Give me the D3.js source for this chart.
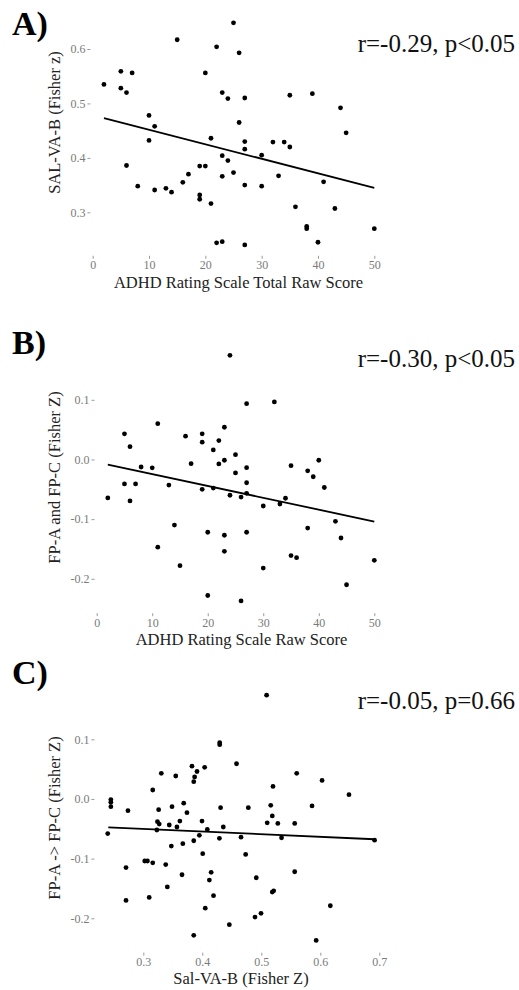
<!DOCTYPE html>
<html><head><meta charset="utf-8">
<script src="https://cdn.jsdelivr.net/npm/d3@7"></script>
<style>
html,body{margin:0;padding:0;background:#fff;}
svg{display:block;font-family:"Liberation Serif","Times New Roman",serif;}
</style></head>
<body><svg id="c" width="519" height="990"></svg>
<script>
// ---------- DATA ----------
const panelLabels = ["A)", "B)", "C)"];
const statTexts = ["r=-0.29, p<0.05", "r=-0.30, p<0.05", "r=-0.05, p=0.66"];
const xTitles = ["ADHD Rating Scale Total Raw Score", "ADHD Rating Scale Raw Score", "Sal-VA-B (Fisher Z)"];
const yTitles = ["SAL-VA-B (Fisher z)", "FP-A and FP-C (Fisher Z)", "FP-A -> FP-C (Fisher Z)"];

const xTicksA = [0, 10, 20, 30, 40, 50];
const yTicksA = [0.3, 0.4, 0.5, 0.6];
const xTicksB = [0, 10, 20, 30, 40, 50];
const yTicksB = [-0.2, -0.1, 0.0, 0.1];
const xTicksC = [0.3, 0.4, 0.5, 0.6, 0.7];
const yTicksC = [-0.2, -0.1, 0.0, 0.1];

const adhdA = [2,5,7,5,6,15,10,11,10,6,20,22,25,26,23,24,27,26,21,27,27,23,24,19,20,35,39,44,45,32,34,35,30,8,11,13,14,16,17,19,19,21,23,25,27,22,23,27,30,33,41,36,43,38,38,40,50];
const salA = [0.535,0.559,0.556,0.528,0.520,0.617,0.478,0.458,0.432,0.386,0.556,0.604,0.648,0.593,0.520,0.509,0.510,0.465,0.436,0.430,0.416,0.404,0.395,0.385,0.385,0.515,0.518,0.492,0.446,0.429,0.429,0.420,0.405,0.348,0.341,0.344,0.337,0.355,0.370,0.332,0.324,0.316,0.366,0.373,0.350,0.244,0.246,0.240,0.348,0.367,0.356,0.310,0.307,0.274,0.270,0.245,0.270];
const fitXA = [2, 50];
const fitYA = [0.473, 0.345];

const adhdB = [24,27,5,6,11,16,19,19,22,23,21,25,8,10,17,22,23,27,25,5,7,13,27,19,32,35,40,38,39,41,2,6,21,24,26,27,14,11,15,20,23,27,23,20,26,34,33,30,43,38,44,35,36,50,30,45];
const fpB = [0.1746,0.0935,0.043,0.0215,0.060,0.039,0.043,0.029,0.0316,0.054,0.016,0.008,-0.0126,-0.014,-0.007,-0.0075,-0.0013,-0.0137,-0.0226,-0.041,-0.041,-0.043,-0.039,-0.050,0.0964,-0.0104,-0.0013,-0.019,-0.029,-0.047,-0.0645,-0.0695,-0.048,-0.060,-0.063,-0.0567,-0.110,-0.147,-0.178,-0.122,-0.127,-0.122,-0.154,-0.228,-0.237,-0.065,-0.0746,-0.078,-0.1036,-0.115,-0.1316,-0.161,-0.1646,-0.169,-0.182,-0.210];
const fitXB = [2, 50];
const fitYB = [-0.0085, -0.104];

const salC = [0.4295,0.4295,0.458,0.3305,0.355,0.3825,0.404,0.391,0.387,0.3855,0.316,0.245,0.245,0.245,0.274,0.326,0.3487,0.3685,0.374,0.431,0.478,0.509,0.56,0.603,0.5198,0.6486,0.516,0.586,0.5186,0.2397,0.324,0.327,0.344,0.362,0.357,0.3995,0.323,0.395,0.4085,0.429,0.4356,0.4656,0.3475,0.367,0.3855,0.4007,0.4735,0.2707,0.3024,0.307,0.316,0.338,0.3656,0.415,0.412,0.4915,0.3407,0.2707,0.310,0.419,0.405,0.4893,0.4458,0.3855,0.51,0.528,0.5566,0.5343,0.692,0.5566,0.5186,0.521,0.617,0.4995,0.593];
const fpC = [0.0944,0.091,0.059,0.043,0.0385,0.055,0.053,0.046,0.037,0.029,0.015,-0.001,-0.0055,-0.013,-0.0196,-0.018,-0.013,-0.007,-0.023,-0.0146,-0.0146,0.174,0.043,0.031,0.021,0.0072,-0.0106,-0.0117,-0.0285,-0.058,-0.038,-0.042,-0.0436,-0.037,-0.047,-0.037,-0.052,-0.061,-0.051,-0.066,-0.047,-0.064,-0.079,-0.075,-0.070,-0.0917,-0.093,-0.115,-0.104,-0.104,-0.107,-0.110,-0.127,-0.123,-0.136,-0.132,-0.1475,-0.170,-0.165,-0.162,-0.183,-0.198,-0.2107,-0.2285,-0.040,-0.041,-0.041,-0.065,-0.069,-0.122,-0.156,-0.154,-0.179,-0.1916,-0.237];
const fitXC = [0.2407, 0.692];
const fitYC = [-0.0475, -0.0675];

// ---------- LAYOUT ----------
const svg = d3.select("#c");
const panels = [
  {xs:adhdA, ys:salA, fx:fitXA, fy:fitYA, xt:xTicksA, yt:yTicksA, xfmt:d=>String(d),
   xDom:[0,50], xRng:[92.7,374.3], yDom:[0.3,0.6], yRng:[212.3,49],
   left:90.4, bottom:255.8, labelY:35, statY:52, xTitleY:288, xTitleX:238.5, yTitleY:122.5},
  {xs:adhdB, ys:fpB, fx:fitXB, fy:fitYB, xt:xTicksB, yt:yTicksB, xfmt:d=>String(d),
   xDom:[0,50], xRng:[96.7,374.3], yDom:[-0.2,0.1], yRng:[578.8,399.8],
   left:94.5, bottom:613.2, labelY:354, statY:367, xTitleY:644.5, xTitleX:241.5, yTitleY:477.5},
  {xs:salC, ys:fpC, fx:fitXC, fy:fitYC, xt:xTicksC, yt:yTicksC, xfmt:d=>d.toFixed(1),
   xDom:[0.3,0.7], xRng:[143.3,379.3], yDom:[-0.2,0.1], yRng:[918.3,739.3],
   left:94.4, bottom:952.7, labelY:684, statY:709, xTitleY:984, xTitleX:241, yTitleY:818}
];

panels.forEach((p, i) => {
  const x = d3.scaleLinear().domain(p.xDom).range(p.xRng);
  const y = d3.scaleLinear().domain(p.yDom).range(p.yRng);
  const g = svg.append("g");

  // axes
  const xa = g.append("g").attr("transform", `translate(0,${p.bottom})`)
    .call(d3.axisBottom(x).tickValues(p.xt).tickFormat(p.xfmt).tickSize(3).tickPadding(2));
  const ya = g.append("g").attr("transform", `translate(${p.left},0)`)
    .call(d3.axisLeft(y).tickValues(p.yt).tickFormat(d => d.toFixed(1)).tickSize(3).tickPadding(2));
  [xa, ya].forEach(a => {
    a.select(".domain").remove();
    a.selectAll(".tick line").attr("stroke", "#9a9a9a").attr("stroke-width", 1);
    a.selectAll(".tick text").attr("fill", "#7a7a7a").style("font-size", "12px")
      .style("font-family", "'Liberation Serif',serif");
  });

  // points
  g.append("g").selectAll("circle").data(p.xs.map((v, k) => [v, p.ys[k]])).join("circle")
    .attr("cx", d => x(d[0])).attr("cy", d => y(d[1])).attr("r", 2.4).attr("fill", "#000");

  // fit line
  g.append("path").datum(p.fx.map((v, k) => [v, p.fy[k]]))
    .attr("d", d3.line().x(d => x(d[0])).y(d => y(d[1])))
    .attr("stroke", "#000").attr("stroke-width", 1.8).attr("fill", "none");

  // titles
  g.append("text").attr("x", p.xTitleX).attr("y", p.xTitleY).attr("text-anchor", "middle")
    .style("font-size", "16.5px").attr("fill", "#222").text(xTitles[i]);
  g.append("text").attr("transform", `translate(60,${p.yTitleY}) rotate(-90)`).attr("text-anchor", "middle")
    .style("font-size", "16.5px").attr("fill", "#222").text(yTitles[i]);
  g.append("text").attr("x", 12).attr("y", p.labelY).style("font-size", "34px").style("font-weight", "bold")
    .attr("fill", "#000").text(panelLabels[i]);
  g.append("text").attr("x", 515).attr("y", p.statY).attr("text-anchor", "end")
    .style("font-size", "25px").attr("fill", "#111").text(statTexts[i]);
});
</script></body></html>
